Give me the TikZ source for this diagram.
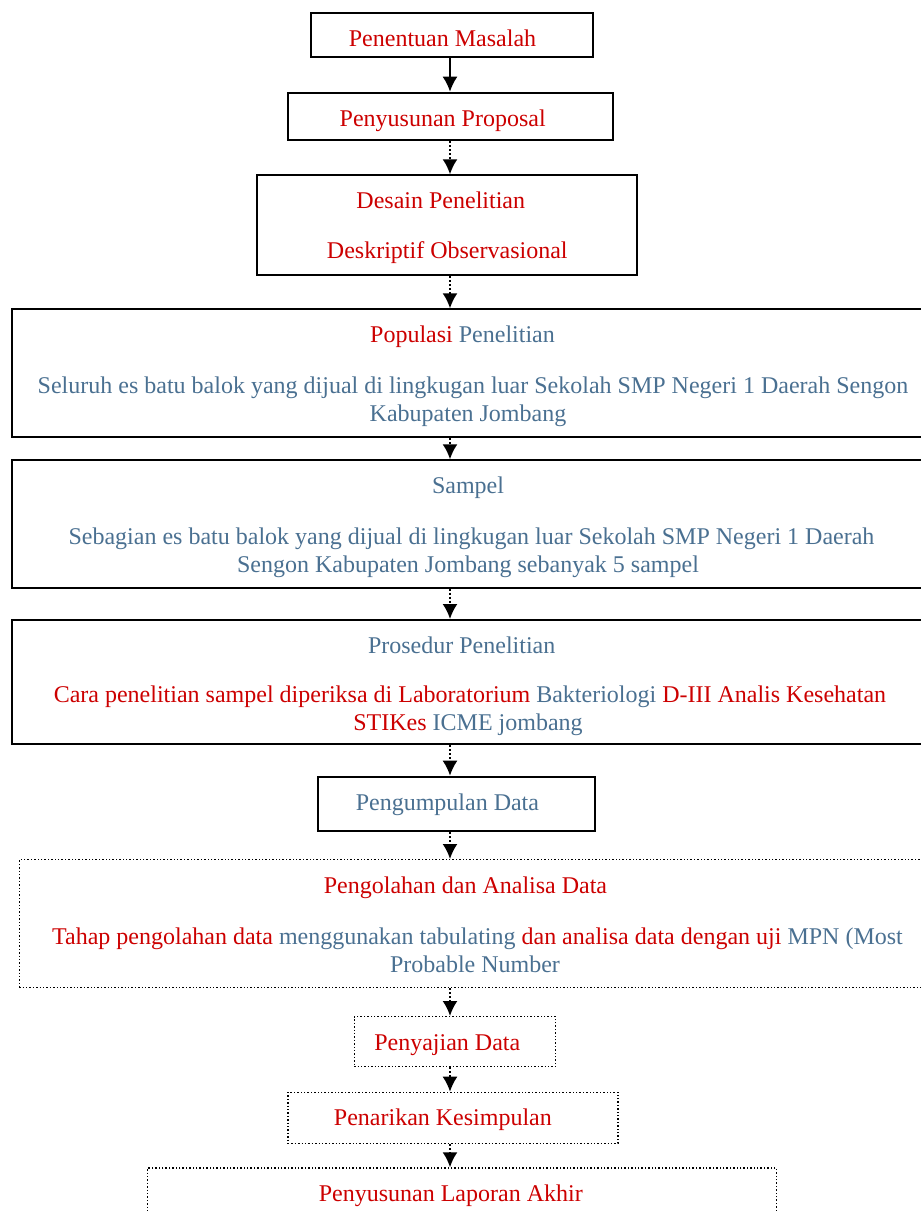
\documentclass[tikz,border=0pt]{standalone}
\usepackage{fontspec}
\setmainfont{Liberation Serif}
\usetikzlibrary{arrows.meta}
\definecolor{merah}{RGB}{204,0,0}
\definecolor{biru}{RGB}{74,112,145}
\newcommand{\baris}[1]{\begin{tabular}[t]{@{}c@{}}#1\end{tabular}}

\begin{document}
\begin{tikzpicture}[x=0.5pt,y=-0.5pt,
        font=\fontsize{12}{14}\selectfont,
        kotak/.style={draw, line width=1pt, anchor=north, inner sep=0pt, text height=16.7pt},
        kotaktitik/.style={kotak, line width=0.7pt, densely dotted},
        panah/.style={-{Latex[length=7.5pt,width=7.5pt]}, line width=1pt},
        panahtitik/.style={panah, dash pattern=on 1pt off 1pt}]
        \useasboundingbox (0,0) rectangle (921,1211);
        \coordinate (ax) at (450,0);
        \node[kotak, text=merah, minimum width=140.85pt, text depth=5.3pt] (PM) at (451.8,11.7) {Penentuan Masalah\hspace*{9.3pt}};
        \node[kotak, text=merah, minimum width=162.5pt, text depth=7.1pt] (PP) at (450.2,91.7) {Penyusunan Proposal\hspace*{7.5pt}};
        \node[kotak, text=merah, minimum width=190pt, text depth=33.3pt] (DP) at (447.3,174.3) {\baris{Desain Penelitian\hspace*{6.5pt}\\[11pt]Deskriptif Observasional}};
        \node[kotak, text=biru, minimum width=456pt, text depth=47.15pt] (POP) at (468,308.3) {\baris{\textcolor{merah}{Populasi} Penelitian\hspace*{5.5pt}\\[11.5pt]
            \hspace*{5pt}Seluruh es batu balok yang dijual di lingkugan luar Sekolah SMP Negeri 1 Daerah Sengon\\Kabupaten Jombang}};
        \node[kotak, text=biru, minimum width=456pt, text depth=47pt] (SMP) at (468,459.3) {\baris{Sampel\\[11.5pt]
            \hspace*{3.5pt}Sebagian es batu balok yang dijual di lingkugan luar Sekolah SMP Negeri 1 Daerah\\Sengon Kabupaten Jombang sebanyak 5 sampel}};
        \node[kotak, text=biru, minimum width=456pt, text depth=45.45pt] (PRO) at (468,619) {\baris{Prosedur Penelitian\hspace*{6.3pt}\\[10.5pt]
            \hspace*{2pt}\textcolor{merah}{Cara penelitian sampel diperiksa di Laboratorium} Bakteriologi \textcolor{merah}{D-III Analis Kesehatan}\\\textcolor{merah}{STIKes} ICME jombang}};
        \node[kotak, text=biru, minimum width=138.6pt, text depth=10.45pt] (PD) at (456.4,775.7) {Pengumpulan Data\hspace*{9pt}};
        \node[kotaktitik, text=biru, minimum width=455.8pt, text depth=47.15pt] (PAD) at (475,859) {\baris{\textcolor{merah}{Pengolahan dan Analisa Data}\hspace*{9.5pt}\\[11.8pt]
            \hspace*{2.5pt}\textcolor{merah}{Tahap pengolahan data} menggunakan tabulating \textcolor{merah}{dan analisa data dengan uji} MPN (Most\\Probable Number}};
        \node[kotaktitik, text=merah, minimum width=100.75pt, text depth=8.3pt] (SD) at (455,1016) {Penyajian Data\hspace*{7.7pt}};
        \node[kotaktitik, text=merah, minimum width=165pt, text depth=8.8pt] (PK) at (452.9,1091.7) {Penarikan Kesimpulan\hspace*{10pt}};
        \node[kotaktitik, text=merah, minimum width=314.5pt, text depth=13.3pt] (LA) at (462,1167.3) {Penyusunan Laporan Akhir\hspace*{11.2pt}};
        \draw[panah] (PM.south -| ax) -- (PP.north -| ax);
        \draw[panahtitik] (PP.south -| ax) -- (DP.north -| ax);
        \draw[panahtitik] (DP.south -| ax) -- (POP.north -| ax);
        \draw[panahtitik] (POP.south -| ax) -- (SMP.north -| ax);
        \draw[panahtitik] (SMP.south -| ax) -- (PRO.north -| ax);
        \draw[panahtitik] (PRO.south -| ax) -- (PD.north -| ax);
        \draw[panahtitik] (PD.south -| ax) -- (PAD.north -| ax);
        \draw[panahtitik] (PAD.south -| ax) -- (SD.north -| ax);
        \draw[panahtitik] (SD.south -| ax) -- (PK.north -| ax);
        \draw[panahtitik] (PK.south -| ax) -- (LA.north -| ax);
    \end{tikzpicture}
\end{document}
